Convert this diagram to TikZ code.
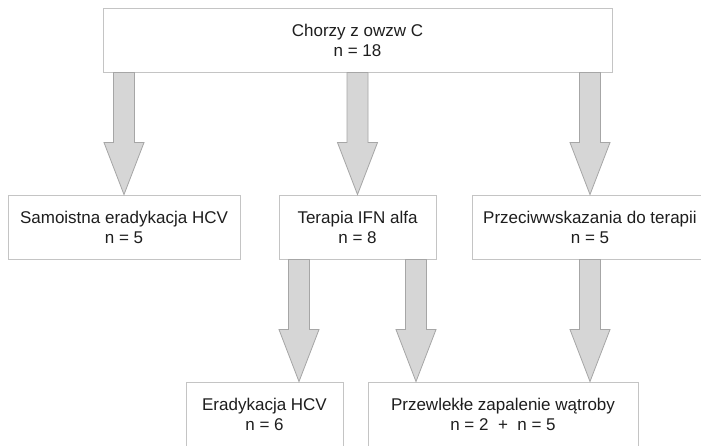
\documentclass[tikz,border=0pt]{standalone}
\usepackage{fontspec}
\setmainfont{Liberation Sans}
\usetikzlibrary{calc}
\definecolor{boxline}{HTML}{C4C4C4}
\definecolor{arrfill}{HTML}{D6D6D6}
\definecolor{arrline}{HTML}{A6A6A6}
\definecolor{txt}{HTML}{1E1E1E}
\tikzset{
  box/.style        = {draw=boxline, line width=0.9pt, fill=white,
                       minimum height=64pt, inner sep=0pt, align=center,
                       text=txt, font=\fontsize{17}{20}\selectfont},
  blockarrow/.style = {draw=arrline, fill=arrfill, line width=0.8pt,
                       line join=miter,
                       to path={let \p1=(\tikztostart), \p2=(\tikztotarget) in
                         (\x1-10.5pt,\y1) -- (\x1-10.5pt,\y2+52pt)
                         -- (\x1-20pt,\y2+52pt) -- (\x1,\y2)
                         -- (\x1+20pt,\y2+52pt) -- (\x1+10.5pt,\y2+52pt)
                         -- (\x1+10.5pt,\y1) -- cycle}},
}

\begin{document}
\begin{tikzpicture}[x=1pt, y=1pt]
  \clip (0,0) rectangle (701,445);
  \fill[white] (0,0) rectangle (701,445);

  % boxes
  \node[box, minimum width=509pt] (top) at (357.5,405) {Chorzy z owzw C\\n = 18};
  \node[box, minimum width=232pt] (s1) at (124,218)   {Samoistna eradykacja HCV\\n = 5};
  \node[box, minimum width=157pt] (s2) at (357.5,218) {Terapia IFN alfa\\n = 8};
  \node[box, minimum width=236pt] (s3) at (590,218)   {Przeciwwskazania do terapii\\n = 5};
  \node[box, minimum width=157pt] (e1) at (264.5,31)  {Eradykacja HCV\\n = 6};
  \node[box, minimum width=270pt] (e2) at (503,31)    {Przewlekłe zapalenie wątroby\\n = 2~ + ~n = 5};

  % arrows
  \coordinate (l2) at ([xshift=-58.5pt]s2.south);
  \coordinate (r2) at ([xshift=58.5pt]s2.south);
  \draw[blockarrow] (top.south -| s1) to (s1.north);
  \draw[blockarrow] (top.south -| s2) to (s2.north);
  \draw[blockarrow] (top.south -| s3) to (s3.north);
  \draw[blockarrow] (l2) to (l2 |- e1.north);
  \draw[blockarrow] (r2) to (r2 |- e2.north);
  \draw[blockarrow] (s3.south) to (s3.south |- e2.north);
\end{tikzpicture}
\end{document}
